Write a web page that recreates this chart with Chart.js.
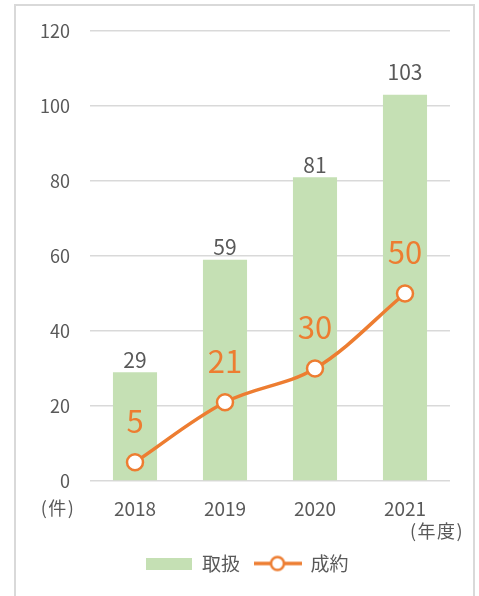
<!DOCTYPE html>
<html lang="ja">
<head>
<meta charset="utf-8">
<script src="https://cdn.jsdelivr.net/npm/chart.js@4.4.1/dist/chart.umd.min.js"></script>
<style>
    html, body { margin: 0; padding: 0; background: #fff; }
    body { width: 479px; height: 596px; position: relative; overflow: hidden; }
    #frame {
        position: absolute; left: 14px; top: 4px; width: 457px; height: 620px;
        border: 2px solid #d9d9d9; box-sizing: content-box;
    }
    #wrap { position: absolute; left: 0; top: 0; width: 479px; height: 596px; }
</style>
</head>
<body>
<div id="frame"></div>
<div id="wrap"><canvas id="dealChart" width="479" height="596"></canvas></div>
<script>
// --- data ---
const years = ['2018', '2019', '2020', '2021'];
const handled = [29, 59, 81, 103];   // 取扱
const closed = [5, 21, 30, 50];      // 成約
const yTicks = [0, 20, 40, 60, 80, 100, 120];

// label nudges (px above bar top), the 103 label sits higher in the original
const barLabelLift = [12, 12.5, 12.5, 23];

const FONT = '"Noto Sans CJK JP", "Noto Sans", sans-serif';
const GREEN = '#c5e0b4';
const ORANGE = '#ed7d31';
const GRAY = '#595959';

// legend swatches
function makeBarSwatch() {
    const c = document.createElement('canvas');
    c.width = 46; c.height = 12;
    const g = c.getContext('2d');
    g.fillStyle = GREEN;
    g.fillRect(0, 0, 46, 12);
    return c;
}
function makeLineSwatch() {
    const c = document.createElement('canvas');
    c.width = 48; c.height = 20;
    const g = c.getContext('2d');
    g.strokeStyle = ORANGE;
    g.lineWidth = 3.5;
    g.beginPath(); g.moveTo(0, 10); g.lineTo(48, 10); g.stroke();
    g.fillStyle = '#fff';
    g.lineWidth = 2.5;
    g.beginPath(); g.arc(24, 10, 6.5, 0, Math.PI * 2); g.fill(); g.stroke();
    return c;
}

// value labels + axis unit labels
const labelPlugin = {
    id: 'labelPlugin',
    afterLayout(chart) {
        // nudge legend so it is centred like the original
        chart.legend.left += 4;
        chart.legend.right += 4;
    },
    afterDatasetsDraw(chart) {
        const ctx = chart.ctx;
        ctx.save();
        ctx.textAlign = 'center';
        ctx.textBaseline = 'middle';

        chart.getDatasetMeta(0).data.forEach((bar, i) => {
            ctx.font = '21px ' + FONT;
            ctx.fillStyle = GRAY;
            ctx.fillText(handled[i], bar.x, bar.y - barLabelLift[i]);
        });
        chart.getDatasetMeta(1).data.forEach((pt, i) => {
            ctx.font = '31px ' + FONT;
            ctx.fillStyle = ORANGE;
            ctx.fillText(closed[i], pt.x, pt.y - 41);
        });

        ctx.font = '18px ' + FONT;
        ctx.fillStyle = GRAY;
        ctx.letterSpacing = '1.5px';
        ctx.fillText('(件)', 58, 508);
        ctx.fillText('(年度)', 437, 531);
        ctx.restore();
    }
};

document.addEventListener('DOMContentLoaded', function() {
    const ctx = document.getElementById('dealChart');

    new Chart(ctx, {
        data: {
            labels: years,
            datasets: [
                {
                    type: 'bar',
                    label: '取扱',
                    data: handled,
                    backgroundColor: GREEN,
                    borderWidth: 0,
                    categoryPercentage: 1,
                    barPercentage: 0.49,
                    order: 2
                },
                {
                    type: 'line',
                    label: '成約',
                    data: closed,
                    borderColor: ORANGE,
                    borderWidth: 3.5,
                    tension: 0.35,
                    pointRadius: 8,
                    pointBorderWidth: 2.5,
                    pointBackgroundColor: '#fff',
                    pointBorderColor: ORANGE,
                    order: 1
                }
            ]
        },
        options: {
            responsive: false,
            animation: false,
            layout: { padding: { left: 36, right: 29, top: 31, bottom: 13 } },
            scales: {
                x: {
                    grid: { display: false },
                    border: { display: false },
                    ticks: { color: GRAY, font: { family: FONT, size: 19 }, padding: 8 },
                    afterFit(axis) { axis.height = 59; }
                },
                y: {
                    min: 0,
                    max: 120,
                    afterBuildTicks(axis) { axis.ticks = yTicks.map(v => ({ value: v })); },
                    grid: { color: '#d9d9d9', lineWidth: 1.5, drawTicks: false },
                    border: { display: false },
                    ticks: { color: GRAY, font: { family: FONT, size: 18 }, padding: 20 },
                    afterFit(axis) { axis.width = 54; }
                }
            },
            plugins: {
                legend: {
                    position: 'bottom',
                    labels: {
                        usePointStyle: true,
                        pointStyleWidth: 47,
                        color: GRAY,
                        font: { family: FONT, size: 19 },
                        padding: 14,
                        generateLabels(chart) {
                            return [
                                { text: '取扱', pointStyle: makeBarSwatch(), datasetIndex: 0, fontColor: GRAY, lineWidth: 0 },
                                { text: '成約', pointStyle: makeLineSwatch(), datasetIndex: 1, fontColor: GRAY, lineWidth: 0 }
                            ];
                        }
                    }
                },
                tooltip: { enabled: false }
            }
        },
        plugins: [labelPlugin]
    });
});
</script>
</body>
</html>
